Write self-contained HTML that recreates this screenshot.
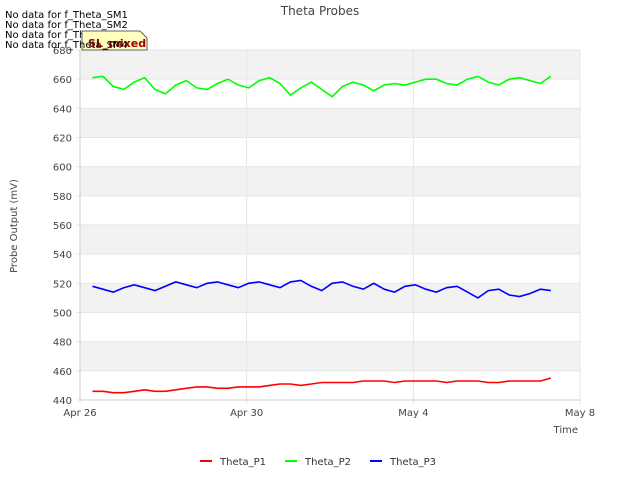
<!DOCTYPE html>
<html><head><meta charset="utf-8"><style>
body{margin:0;background:#fff;font-family:"DejaVu Sans","Liberation Sans",sans-serif}
</style></head><body>
<svg id="c" width="640" height="480" xmlns="http://www.w3.org/2000/svg" font-family="DejaVu Sans, Liberation Sans, sans-serif">
<text x="320" y="15" text-anchor="middle" font-size="12" fill="#444">Theta Probes</text>
<g id="plot"></g>
<text transform="translate(17,226) rotate(-90)" text-anchor="middle" font-size="10" fill="#444">Probe Output (mV)</text>
<text x="578" y="433" text-anchor="end" font-size="10" fill="#444">Time</text>
<g id="legend"></g>
<g font-size="10" fill="#000">
<text x="5" y="18">No data for f_Theta_SM1</text>
<text x="5" y="28">No data for f_Theta_SM2</text>
<text x="5" y="38">No data for f_Theta_SM3</text>
<path d="M82,31 H140 L147,38 V50 H82 Z" fill="#ffffc0" stroke="#333" stroke-width="0.8"/>
<text x="88" y="47" font-size="11" font-weight="bold" fill="#a00000">SL_mixed</text>
<text x="5" y="48">No data for f_Theta_SM4</text>
</g>
</svg>
<script>
const yTicks=[440,460,480,500,520,540,560,580,600,620,640,660,680];
const xTickLabels=["Apr 26","Apr 30","May 4","May 8"];
const xTickDays=[0,4,8,12];
const times=[];for(let i=0;i<45;i++)times.push(0.3+0.25*i);
const seriesNames=["Theta_P1","Theta_P2","Theta_P3"];
const seriesColors=["#ff0000","#00ff00","#0000ff"];
const p1=[446,446,445,445,446,447,446,446,447,448,449,449,448,448,449,449,449,450,451,451,450,451,452,452,452,452,453,453,453,452,453,453,453,453,452,453,453,453,452,452,453,453,453,453,455];
const p2=[661,662,655,653,658,661,653,650,656,659,654,653,657,660,656,654,659,661,657,649,654,658,653,648,655,658,656,652,656,657,656,658,660,660,657,656,660,662,658,656,660,661,659,657,662];
const p3=[518,516,514,517,519,517,515,518,521,519,517,520,521,519,517,520,521,519,517,521,522,518,515,520,521,518,516,520,516,514,518,519,516,514,517,518,514,510,515,516,512,511,513,516,515];
const X0=80,X1=580,Y0=400,Y1=50;
const xs=d=>X0+(d/12)*(X1-X0);
const ys=v=>Y0-(v-440)/240*(Y0-Y1);
const NS="http://www.w3.org/2000/svg";
const plot=document.getElementById('plot');
function mk(t,a,p){const e=document.createElementNS(NS,t);for(const k in a)e.setAttribute(k,a[k]);(p||plot).appendChild(e);return e;}
for(let i=0;i<yTicks.length-1;i++){
 const b=mk('rect',{x:X0,y:ys(yTicks[i+1]),width:X1-X0,height:ys(yTicks[i])-ys(yTicks[i+1]),fill:i%2?'#f2f2f2':'#ffffff'});
 
 
}
yTicks.forEach(v=>{
 const l=mk('line',{x1:X0-4,x2:X1,y1:ys(v),y2:ys(v),stroke:'#e6e6e6','stroke-width':1});
 
 
 const t=mk('text',{x:X0-8,y:ys(v)+4,'text-anchor':'end','font-size':10,fill:'#444'});
 t.textContent=v;
 
 
});
xTickDays.forEach((d,i)=>{
 const l=mk('line',{x1:xs(d),x2:xs(d),y1:Y1,y2:Y0+4,stroke:'#e6e6e6'});
 
 
 const t=mk('text',{x:xs(d),y:Y0+16,'text-anchor':'middle','font-size':10,fill:'#444'});
 t.textContent=xTickLabels[i];
 
 
});
const ax=mk('path',{d:`M${X0},${Y1}V${Y0}H${X1}`,fill:'none',stroke:'#ccc'});


[p1,p2,p3].forEach((s,k)=>{
 const d=s.map((v,i)=>(i?'L':'M')+xs(times[i]).toFixed(1)+','+ys(v).toFixed(1)).join('');
 const p=mk('path',{d:d,fill:'none',stroke:seriesColors[k],'stroke-width':1.6});
 
 
});
const lg=document.getElementById('legend');
seriesNames.forEach((n,k)=>{
 const x=200+k*85;
 const l=mk('line',{x1:x,x2:x+12,y1:461,y2:461,stroke:seriesColors[k],'stroke-width':2},lg);
 
 
 const t=mk('text',{x:x+20,y:465,'font-size':10,fill:'#333'},lg);
 t.textContent=n;
 
 
});
</script>
</body></html>
